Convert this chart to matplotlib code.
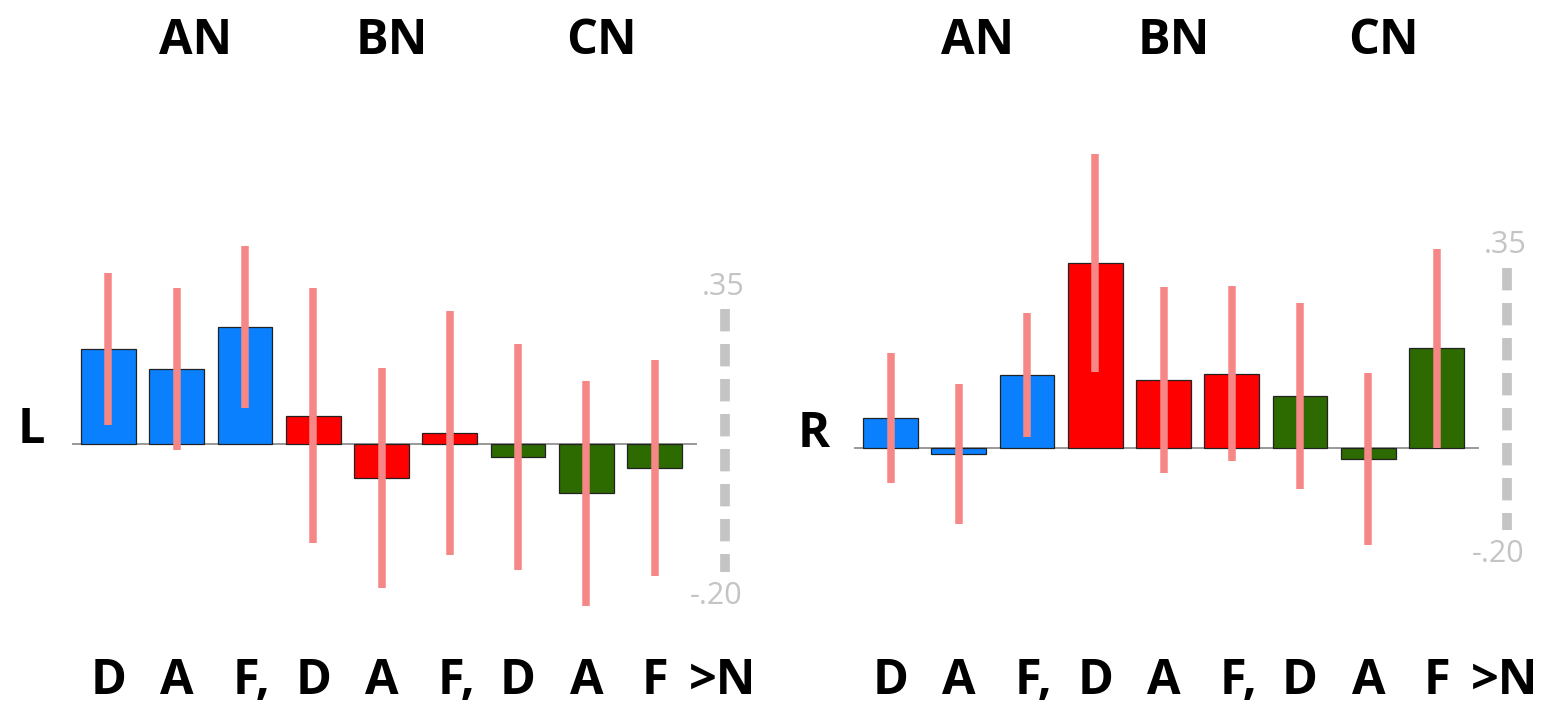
import numpy as np
import matplotlib.pyplot as plt

# bar values and error half-widths (arbitrary units)
groups = ['AN', 'BN', 'CN']
tick_labels = ['D', 'A', 'F,', 'D', 'A', 'F,', 'D', 'A', 'F']
bar_colors = ['#0A80FF'] * 3 + ['#FF0000'] * 3 + ['#2D6A00'] * 3

left_vals = [0.199, 0.157, 0.245, 0.059, -0.071, 0.023, -0.027, -0.103, -0.050]
left_err = [0.159, 0.169, 0.169, 0.267, 0.231, 0.255, 0.237, 0.235, 0.226]
right_vals = [0.063, -0.013, 0.153, 0.387, 0.142, 0.155, 0.109, -0.023, 0.209]
right_err = [0.136, 0.146, 0.130, 0.228, 0.195, 0.183, 0.194, 0.179, 0.208]

W, H = 1554, 708
PITCH = 68.25   # px per bar slot
SCALE = 478.0   # px per unit
FONT = ['Open Sans', 'DejaVu Sans']

fig = plt.figure(figsize=(W / 100, H / 100), dpi=100)


def draw_panel(px_left, px_right, x0, base, vals, errs, side, scale_y):
    ax = fig.add_axes([px_left / W, 0, (px_right - px_left) / W, 1])
    ax.set_xlim((0 - x0) / PITCH, (px_right - px_left - x0) / PITCH)
    ax.set_ylim((base - H) / SCALE, base / SCALE)
    ax.axis('off')

    x = np.arange(len(vals))
    ax.bar(x, vals, width=0.8, color=bar_colors, edgecolor='#222222',
           linewidth=0.9, zorder=2)
    ax.errorbar(x, vals, yerr=errs, fmt='none', ecolor='#F68787',
                elinewidth=5.4, capsize=0, zorder=3)
    ax.hlines(0, -0.53, 8.62, color='#999999', linewidth=1.4, zorder=1)

    # scale bar on the right
    top, bot = scale_y
    ax.plot([9.04, 9.04], [top, bot], color='#C4C4C4', linewidth=7,
            linestyle=(0, (2.3, 1.3)), solid_capstyle='butt',
            dash_capstyle='butt', clip_on=False)
    ax.text(9.0, top + 0.047, '.35', color='#C4C4C4', fontsize=22,
            ha='center', va='center', family=FONT)
    ax.text(8.9, bot - 0.05, '-.20', color='#C4C4C4', fontsize=22,
            ha='center', va='center', family=FONT)

    # group headers
    for gx, g in zip([1.27, 4.15, 7.22], groups):
        ax.text(gx, (base - 42) / SCALE, g, fontsize=35, fontweight='bold',
                ha='center', va='center', family=FONT)

    # condition labels under the bars
    ly = (base - 682) / SCALE
    for i, lab in enumerate(tick_labels):
        off = 0.1 if lab.endswith(',') else 0.0
        ax.text(i + off, ly, lab, fontsize=35, fontweight='bold',
                ha='center', va='center', family=FONT)
    ax.text(9.0, ly, '>N', fontsize=35, fontweight='bold',
            ha='center', va='center', family=FONT)

    ax.text(-1.13, 0.028, side, fontsize=35, fontweight='bold',
            ha='center', va='center', family=FONT)


draw_panel(0, 777, 108.5, 444, left_vals, left_err, 'L', (0.282, -0.268))
draw_panel(777, 1554, 113.5, 448, right_vals, right_err, 'R', (0.377, -0.172))

fig.savefig('out.png', dpi=100, facecolor='white')
